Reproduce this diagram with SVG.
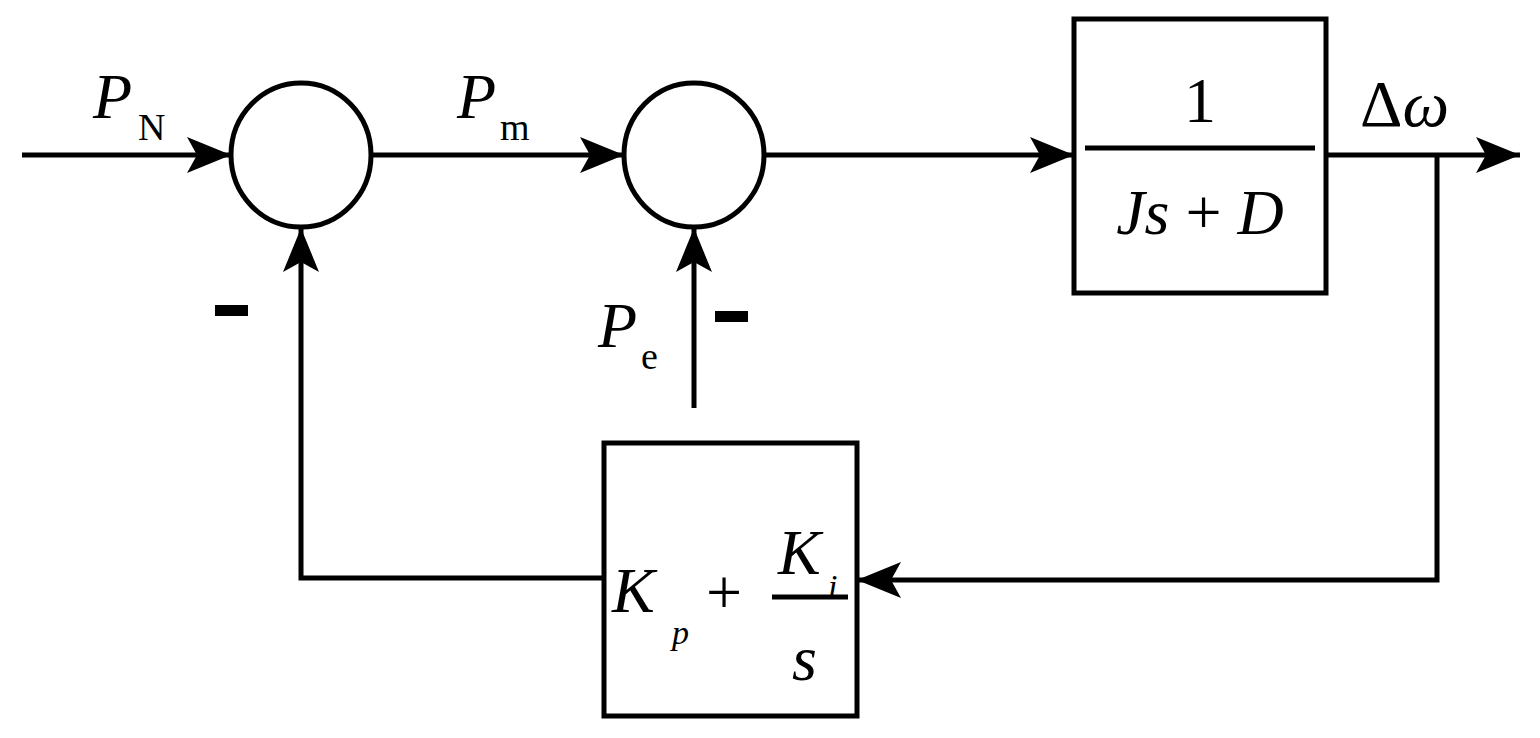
<svg xmlns="http://www.w3.org/2000/svg" width="1540" height="738" viewBox="0 0 1540 738">
<style>
.s{fill:none;stroke:#000;stroke-width:5}
.t{font-family:"Liberation Serif",serif;fill:#000}
.i{font-style:italic}
</style>
<defs>
<marker id="a" markerUnits="userSpaceOnUse" markerWidth="50" markerHeight="40" refX="44" refY="18" orient="auto">
<path d="M0,0 L44,18 L0,36 L10,18 Z" fill="#000"/>
</marker>
</defs>
<rect width="1540" height="738" fill="#fff"/>
<g id="connectors" class="s">
<path d="M22,155 H231" marker-end="url(#a)"/>
<path d="M371,155 H624" marker-end="url(#a)"/>
<path d="M764,155 H1074" marker-end="url(#a)"/>
<path d="M1326,155 H1520" marker-end="url(#a)"/>
<path d="M1437,155 V580 H857" marker-end="url(#a)"/>
<path d="M604,578 H301 V228" marker-end="url(#a)"/>
<path d="M694,408 V228" marker-end="url(#a)"/>
</g>
<g id="sum1"><ellipse class="s" cx="301" cy="155" rx="70" ry="72"/></g>
<g id="sum2"><ellipse class="s" cx="694" cy="155" rx="70" ry="72"/></g>
<g id="plant">
<rect class="s" x="1074" y="19" width="252" height="274"/>
<line class="s" x1="1085" y1="148" x2="1315" y2="148"/>
<text class="t" x="1200" y="122" font-size="64" text-anchor="middle">1</text>
<text class="t" x="1200" y="234" font-size="64" text-anchor="middle"><tspan class="i">Js</tspan> + <tspan class="i">D</tspan></text>
</g>
<g id="pi">
<rect class="s" x="604" y="443" width="253" height="273"/>
<line class="s" x1="772" y1="597" x2="848" y2="597"/>
<text class="t i" x="612" y="612" font-size="64">K</text>
<text class="t i" x="672" y="644" font-size="34">p</text>
<text class="t" x="706" y="614" font-size="64">+</text>
<text class="t i" x="778" y="574" font-size="64">K</text>
<text class="t i" x="828" y="598" font-size="34">i</text>
<text class="t i" x="792" y="680" font-size="64">s</text>
</g>
<g id="labels">
<text class="t i" x="93" y="118" font-size="64">P</text>
<text class="t" x="138" y="140" font-size="38">N</text>
<text class="t i" x="457" y="118" font-size="64">P</text>
<text class="t" x="500" y="140" font-size="38">m</text>
<text class="t i" x="598" y="347" font-size="64">P</text>
<text class="t" x="641" y="369" font-size="38">e</text>
<text class="t" x="1360" y="126" font-size="66">Δ<tspan class="i">ω</tspan></text>
<rect x="215" y="305" width="33" height="11" fill="#000"/>
<rect x="715" y="311" width="33" height="11" fill="#000"/>
</g>
</svg>
